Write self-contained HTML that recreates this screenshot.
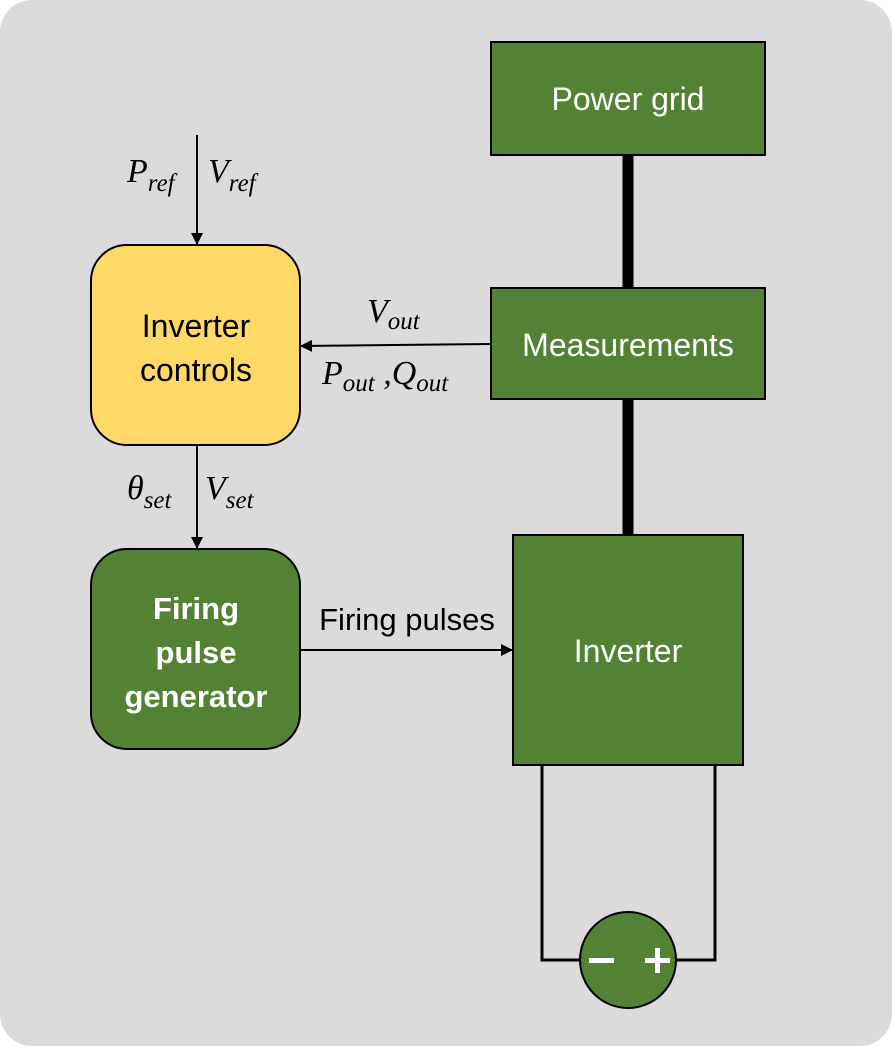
<!DOCTYPE html>
<html><head><style>
body{margin:0;background:#fff;}
svg{display:block;}
text{font-family:"Liberation Sans",sans-serif;}
.m{font-family:"Liberation Serif",serif;font-style:italic;}
</style></head><body>
<svg width="892" height="1046" viewBox="0 0 892 1046">
<defs><marker id="a" markerWidth="12" markerHeight="12" refX="11" refY="6" orient="auto" markerUnits="userSpaceOnUse"><path d="M0,0 L12,6 L0,12 z" fill="#000"/></marker></defs>
<rect x="0" y="0" width="892" height="1046" rx="32" fill="#dbdbdb"/>
<line x1="628" y1="155" x2="628" y2="288" stroke="#000" stroke-width="11"/>
<line x1="628" y1="399" x2="628" y2="535" stroke="#000" stroke-width="11"/>
<rect x="491" y="42" width="274" height="113" fill="#548235" stroke="#000" stroke-width="2"/>
<text x="628" y="110" fill="#fff" font-size="32" text-anchor="middle">Power grid</text>
<rect x="491" y="288" width="274" height="111" fill="#548235" stroke="#000" stroke-width="2"/>
<text x="628" y="356" fill="#fff" font-size="32" text-anchor="middle">Measurements</text>
<rect x="513" y="535" width="230" height="230" fill="#548235" stroke="#000" stroke-width="2"/>
<text x="628" y="662" fill="#fff" font-size="32" text-anchor="middle">Inverter</text>
<polyline points="542,765 542,960 715,960 715,765" fill="none" stroke="#000" stroke-width="3"/>
<circle cx="628" cy="960" r="48" fill="#548235" stroke="#000" stroke-width="2"/>
<rect x="589" y="958" width="25" height="5" fill="#fff"/>
<rect x="645" y="958" width="25" height="5" fill="#fff"/>
<rect x="655" y="948" width="5" height="25" fill="#fff"/>
<line x1="197" y1="135" x2="197" y2="244" stroke="#000" stroke-width="2" marker-end="url(#a)"/>
<line x1="197" y1="445" x2="197" y2="548" stroke="#000" stroke-width="2" marker-end="url(#a)"/>
<line x1="491" y1="344" x2="301" y2="346" stroke="#000" stroke-width="2" marker-end="url(#a)"/>
<line x1="300" y1="650" x2="512" y2="650" stroke="#000" stroke-width="2" marker-end="url(#a)"/>
<rect x="91" y="245" width="209" height="200" rx="36" fill="#ffd966" stroke="#000" stroke-width="2"/>
<text x="196" y="337" font-size="32" text-anchor="middle">Inverter</text>
<text x="196" y="381" font-size="32" text-anchor="middle">controls</text>
<rect x="91" y="549" width="209" height="200" rx="36" fill="#548235" stroke="#000" stroke-width="2"/>
<text x="196" y="619" fill="#fff" font-size="31" font-weight="bold" text-anchor="middle">Firing</text>
<text x="196" y="663" fill="#fff" font-size="31" font-weight="bold" text-anchor="middle">pulse</text>
<text x="196" y="707" fill="#fff" font-size="31" font-weight="bold" text-anchor="middle">generator</text>
<text x="407" y="630" font-size="31" text-anchor="middle">Firing pulses</text>
<text class="m" x="127" y="182" font-size="34">P<tspan font-size="25" dy="9">ref</tspan></text>
<text class="m" x="208" y="182" font-size="34">V<tspan font-size="25" dy="9">ref</tspan></text>
<text class="m" x="367" y="322" font-size="34">V<tspan font-size="25" dy="7">out</tspan></text>
<text class="m" x="322" y="384" font-size="34">P<tspan font-size="25" dy="7">out</tspan><tspan dy="-7"> ,Q</tspan><tspan font-size="25" dy="7">out</tspan></text>
<text class="m" x="127" y="499" font-size="34">θ<tspan font-size="25" dy="9">set</tspan></text>
<text class="m" x="205" y="499" font-size="34">V<tspan font-size="25" dy="9">set</tspan></text>
</svg>
</body></html>
